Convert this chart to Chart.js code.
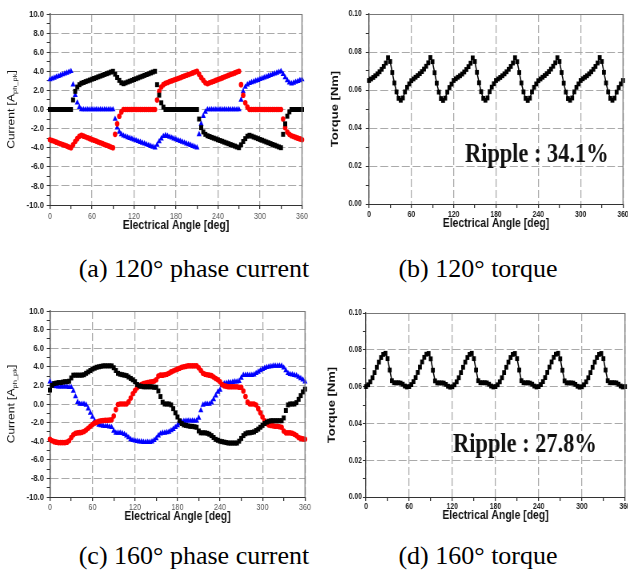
<!DOCTYPE html>
<html>
<head>
<meta charset="utf-8">
<title>Phase current and torque</title>
<script src="https://cdn.jsdelivr.net/npm/chart.js@4.4.1/dist/chart.umd.min.js"></script>
<style>
html, body { margin: 0; padding: 0; background: #fff; }
body { position: relative; width: 628px; height: 574px; overflow: hidden; }
canvas { position: absolute; }
.cap { position: absolute; font-family: 'Liberation Serif', 'Times New Roman', serif; font-size: 26px;
       line-height: 26px; white-space: nowrap; color: #000; transform: translateX(-50%); }
</style>
</head>
<body>
<canvas id="cur120"></canvas>
<canvas id="tq120"></canvas>
<canvas id="cur160"></canvas>
<canvas id="tq160"></canvas>
<div class="cap" style="left:194px; top:256px">(a) 120° phase current</div>
<div class="cap" style="left:478px; top:256px">(b) 120° torque</div>
<div class="cap" style="left:194px; top:543px">(c) 160° phase current</div>
<div class="cap" style="left:478px; top:543px">(d) 160° torque</div>
<script>
// electrical angle [deg]
var angles = [0,3,6,9,12,15,18,21,24,27,30,33,36,39,42,45,48,51,54,57,60,63,66,69,72,75,78,81,84,87,
  90,93,96,99,102,105,108,111,114,117,120,123,126,129,132,135,138,141,144,147,150,153,156,159,162,165,168,171,174,177,
  180,183,186,189,192,195,198,201,204,207,210,213,216,219,222,225,228,231,234,237,240,243,246,249,252,255,258,261,264,267,
  270,273,276,279,282,285,288,291,294,297,300,303,306,309,312,315,318,321,324,327,330,333,336,339,342,345,348,351,354,357,360];

// (a) 120 deg conduction, phase currents [A]
var cur120A = [0,0,0,0,0,0,0,0,0,0, 0,1.0,1.9,2.35,2.6,2.75,2.83,2.92,3.0,3.08,
  3.17,3.25,3.33,3.42,3.5,3.58,3.67,3.75,3.83,3.92, 4.0,3.7,3.35,3.05,2.8,2.7,2.79,2.88,2.96,3.05,
  3.14,3.22,3.31,3.4,3.48,3.57,3.66,3.74,3.83,3.92, 4.0,2.6,1.5,0.7,0.25,0,0,0,0,0,
  0,0,0,0,0,0,0,0,0,0, 0,-1.0,-1.9,-2.35,-2.6,-2.75,-2.83,-2.92,-3.0,-3.08,
  -3.17,-3.25,-3.33,-3.42,-3.5,-3.58,-3.67,-3.75,-3.83,-3.92, -4.0,-3.7,-3.35,-3.05,-2.8,-2.7,-2.79,-2.88,-2.96,-3.05,
  -3.14,-3.22,-3.31,-3.4,-3.48,-3.57,-3.66,-3.74,-3.83,-3.92, -4.0,-2.6,-1.5,-0.7,-0.25,0,0,0,0,0, 0];
var cur120B = [-3.17,-3.25,-3.33,-3.42,-3.5,-3.58,-3.67,-3.75,-3.83,-3.92, -4.0,-3.7,-3.35,-3.05,-2.8,-2.7,-2.79,-2.88,-2.96,-3.05,
  -3.14,-3.22,-3.31,-3.4,-3.48,-3.57,-3.66,-3.74,-3.83,-3.92, -4.0,-2.6,-1.5,-0.7,-0.25,0,0,0,0,0,
  0,0,0,0,0,0,0,0,0,0, 0,1.0,1.9,2.35,2.6,2.75,2.83,2.92,3.0,3.08,
  3.17,3.25,3.33,3.42,3.5,3.58,3.67,3.75,3.83,3.92, 4.0,3.7,3.35,3.05,2.8,2.7,2.79,2.88,2.96,3.05,
  3.14,3.22,3.31,3.4,3.48,3.57,3.66,3.74,3.83,3.92, 4.0,2.6,1.5,0.7,0.25,0,0,0,0,0,
  0,0,0,0,0,0,0,0,0,0, 0,-1.0,-1.9,-2.35,-2.6,-2.75,-2.83,-2.92,-3.0,-3.08, -3.17];
var cur120C = [3.14,3.22,3.31,3.4,3.48,3.57,3.66,3.74,3.83,3.92, 4.0,2.6,1.5,0.7,0.25,0,0,0,0,0,
  0,0,0,0,0,0,0,0,0,0, 0,-1.0,-1.9,-2.35,-2.6,-2.75,-2.83,-2.92,-3.0,-3.08,
  -3.17,-3.25,-3.33,-3.42,-3.5,-3.58,-3.67,-3.75,-3.83,-3.92, -4.0,-3.7,-3.35,-3.05,-2.8,-2.7,-2.79,-2.88,-2.96,-3.05,
  -3.14,-3.22,-3.31,-3.4,-3.48,-3.57,-3.66,-3.74,-3.83,-3.92, -4.0,-2.6,-1.5,-0.7,-0.25,0,0,0,0,0,
  0,0,0,0,0,0,0,0,0,0, 0,1.0,1.9,2.35,2.6,2.75,2.83,2.92,3.0,3.08,
  3.17,3.25,3.33,3.42,3.5,3.58,3.67,3.75,3.83,3.92, 4.0,3.7,3.35,3.05,2.8,2.7,2.79,2.88,2.96,3.05, 3.14];

// (b) 120 deg conduction, torque [Nm]
var tq120 = [0.0650,0.0658,0.0666,0.0675,0.0685,0.0696,0.0709,0.0724,0.0742,0.0770,0.0750,0.0692,0.0637,0.0590,0.0556,0.0546,0.0558,0.0590,0.0614,0.0632,
  0.0649,0.0658,0.0667,0.0676,0.0686,0.0697,0.0710,0.0725,0.0743,0.0771,0.0749,0.0691,0.0636,0.0589,0.0555,0.0545,0.0557,0.0589,0.0613,0.0631,
  0.0650,0.0659,0.0667,0.0675,0.0684,0.0695,0.0708,0.0723,0.0741,0.0769,0.0750,0.0693,0.0638,0.0591,0.0556,0.0546,0.0558,0.0591,0.0615,0.0633,
  0.0650,0.0658,0.0666,0.0675,0.0685,0.0696,0.0709,0.0724,0.0742,0.0770,0.0749,0.0692,0.0637,0.0590,0.0556,0.0545,0.0557,0.0590,0.0614,0.0632,
  0.0649,0.0658,0.0667,0.0676,0.0686,0.0697,0.0710,0.0725,0.0743,0.0770,0.0750,0.0692,0.0636,0.0589,0.0555,0.0546,0.0558,0.0590,0.0614,0.0632,
  0.0650,0.0659,0.0667,0.0675,0.0685,0.0696,0.0709,0.0724,0.0742,0.0771,0.0750,0.0693,0.0637,0.0590,0.0556,0.0546,0.0557,0.0589,0.0613,0.0632,
  0.0650];

// (c) 160 deg conduction, phase currents [A]
var cur160A = [1.5,2.0,2.2,2.25,2.3,2.3,2.35,2.4,2.4,2.45, 2.8,3.1,3.1,3.1,3.1,3.1,3.15,3.3,3.45,3.6,
  3.75,3.85,3.95,4.0,4.05,4.1,4.1,4.1,4.1,4.1, 3.9,3.6,3.3,3.2,3.15,3.1,3.05,2.9,2.75,2.6,
  2.4,2.1,1.95,1.9,1.85,1.85,1.85,1.85,1.85,1.8, 1.8,1.4,0.8,0.2,0,0,0,-0.1,-0.5,-0.95,
  -1.4,-1.8,-2.1,-2.25,-2.3,-2.35,-2.4,-2.4,-2.45,-2.5, -2.9,-3.1,-3.1,-3.1,-3.15,-3.25,-3.4,-3.6,-3.8,-3.9,
  -4.0,-4.05,-4.1,-4.15,-4.2,-4.2,-4.2,-4.2,-4.2,-4.0, -3.7,-3.4,-3.2,-3.1,-3.1,-3.05,-3.0,-2.85,-2.7,-2.5,
  -2.3,-2.1,-1.95,-1.85,-1.8,-1.8,-1.8,-1.8,-1.8,-1.8, -1.5,-0.7,-0.1,0,0,0,0.15,0.5,0.9,1.3, 1.6];
var cur160B = [-3.8,-3.95,-4.05,-4.1,-4.15,-4.15,-4.15,-4.15,-4.1,-3.95, -3.6,-3.3,-3.15,-3.1,-3.08,-3.05,-2.95,-2.8,-2.6,-2.4,
  -2.2,-2.05,-1.95,-1.85,-1.8,-1.78,-1.75,-1.75,-1.72,-1.7, -1.3,-0.6,-0.05,0,0,0,0,0.25,0.65,1.1,
  1.45,1.75,1.95,2.1,2.2,2.25,2.3,2.35,2.4,2.45, 2.6,3.0,3.1,3.1,3.15,3.2,3.3,3.45,3.55,3.65,
  3.75,3.85,3.95,4.0,4.05,4.1,4.1,4.1,4.1,4.1, 3.9,3.6,3.3,3.2,3.15,3.1,3.05,2.9,2.75,2.6,
  2.4,2.1,1.95,1.9,1.85,1.85,1.85,1.85,1.85,1.8, 1.8,1.4,0.8,0.2,0,0,0,-0.1,-0.5,-0.95,
  -1.4,-1.8,-2.1,-2.25,-2.3,-2.35,-2.4,-2.4,-2.45,-2.5, -2.9,-3.1,-3.1,-3.1,-3.15,-3.25,-3.4,-3.6,-3.7,-3.75, -3.8];
var cur160C = [2.4,2.1,1.95,1.9,1.85,1.85,1.85,1.85,1.85,1.8, 1.8,1.4,0.8,0.2,0,0,0,-0.1,-0.5,-0.95,
  -1.4,-1.8,-2.1,-2.25,-2.3,-2.35,-2.4,-2.4,-2.45,-2.5, -2.9,-3.1,-3.1,-3.1,-3.15,-3.25,-3.4,-3.6,-3.8,-3.9,
  -3.95,-4.0,-4.05,-4.05,-4.1,-4.1,-4.1,-4.1,-4.05,-3.9, -3.7,-3.4,-3.2,-3.1,-3.1,-3.05,-3.0,-2.85,-2.7,-2.5,
  -2.3,-2.1,-1.95,-1.85,-1.8,-1.8,-1.8,-1.8,-1.8,-1.8, -1.5,-0.7,-0.1,0,0,0,0.15,0.5,0.9,1.3,
  1.5,2.0,2.2,2.25,2.3,2.3,2.35,2.4,2.4,2.45, 2.8,3.1,3.1,3.1,3.1,3.1,3.15,3.3,3.45,3.6,
  3.75,3.85,3.95,4.0,4.05,4.1,4.1,4.1,4.1,4.1, 3.9,3.6,3.3,3.2,3.15,3.1,3.05,2.9,2.75,2.6, 2.4];

// (d) 160 deg conduction, torque [Nm]
var tq160 = [0.0600,0.0610,0.0626,0.0648,0.0676,0.0705,0.0733,0.0758,0.0775,0.0781,0.0752,0.0690,0.0632,0.0621,0.0620,0.0621,0.0619,0.0613,0.0603,0.0598,
  0.0600,0.0611,0.0627,0.0649,0.0677,0.0706,0.0734,0.0759,0.0776,0.0780,0.0751,0.0689,0.0631,0.0620,0.0620,0.0620,0.0619,0.0612,0.0602,0.0597,
  0.0599,0.0610,0.0626,0.0648,0.0676,0.0705,0.0733,0.0758,0.0775,0.0781,0.0752,0.0690,0.0632,0.0621,0.0621,0.0621,0.0620,0.0613,0.0603,0.0598,
  0.0600,0.0610,0.0626,0.0648,0.0676,0.0705,0.0733,0.0758,0.0775,0.0780,0.0752,0.0690,0.0632,0.0621,0.0620,0.0621,0.0619,0.0613,0.0603,0.0598,
  0.0600,0.0611,0.0627,0.0649,0.0677,0.0706,0.0734,0.0759,0.0776,0.0781,0.0751,0.0689,0.0631,0.0620,0.0620,0.0620,0.0619,0.0612,0.0602,0.0597,
  0.0599,0.0610,0.0626,0.0648,0.0676,0.0705,0.0733,0.0758,0.0775,0.0780,0.0752,0.0690,0.0632,0.0621,0.0621,0.0621,0.0620,0.0613,0.0603,0.0598,
  0.0600];

var SX = 0.8;   // the original figure is squeezed horizontally, charts are drawn wide and shrunk

Chart.defaults.font.family = "'Liberation Sans', Arial, sans-serif";
Chart.defaults.animation = false;

function pts(values) {
  return angles.map(function (a, i) { return { x: a, y: values[i] }; });
}

function majorAngle(v) { return v % 60 === 0; }
function majorAmp(v) { return Math.abs(Math.round(v)) % 2 === 0; }
function majorTq(v) { return Math.round(v * 100) % 2 === 0; }

function grid(isMajor, w) {
  return {
    color: function (c) { return c.tick && isMajor(c.tick.value) ? '#aaaaaa' : 'rgba(0,0,0,0)'; },
    lineWidth: w, tickWidth: w, tickLength: 4, tickColor: '#333'
  };
}

function angleAxis(p) {
  return {
    type: 'linear', min: 0, max: 360,
    afterFit: function (s) { s.height = p.h; },
    ticks: { stepSize: 30, autoSkip: false, maxRotation: 0, padding: p.tickPad, color: p.tickColor, font: p.tickFont,
             callback: function (v) { return majorAngle(v) ? String(v) : ''; } },
    grid: grid(majorAngle, 1.25),
    border: { color: '#333', width: 1, dash: [8, 3] },
    title: { display: true, text: 'Electrical Angle [deg]', color: '#111',
             font: { size: 13, weight: 'bold' }, padding: { top: 0, bottom: p.titlePad } }
  };
}

function ampAxis(p) {
  return {
    type: 'linear', min: -10, max: 10,
    afterFit: function (s) { s.width = p.w; },
    ticks: { stepSize: 1, autoSkip: false, padding: 3.5, color: '#222', font: { size: 9.5, weight: 'bold' },
             callback: function (v) { return majorAmp(v) ? v.toFixed(1) : ''; } },
    grid: grid(majorAmp, 1),
    border: { color: '#333', width: 1.25, dash: [10, 3.5] }
  };
}

function tqAxis(p) {
  return {
    type: 'linear', min: 0, max: 0.1,
    afterFit: function (s) { s.width = p.w; },
    ticks: { stepSize: 0.01, autoSkip: false, padding: p.tickPad, color: '#222', font: { size: 8.5, weight: 'bold' },
             callback: function (v) { return majorTq(v) ? v.toFixed(2) : ''; } },
    grid: grid(majorTq, 1),
    border: { color: '#333', width: 1.25, dash: [10, 3.5] },
    title: { display: true, text: 'Torque [Nm]', color: '#111', font: { size: 13, weight: 'bold' },
             padding: { top: p.titlePad, bottom: 0 } }
  };
}

// y title with subscript for the current plots
var ampTitle = {
  id: 'ampTitle',
  afterDraw: function (chart, args, o) {
    var ctx = chart.ctx, a = chart.chartArea;
    var big = "12px 'Liberation Sans', Arial, sans-serif", small = "7.5px 'Liberation Sans', Arial, sans-serif";
    ctx.save();
    ctx.translate(o.x, (a.top + a.bottom) / 2);
    ctx.rotate(-Math.PI / 2);
    ctx.fillStyle = '#111';
    ctx.textBaseline = 'middle';
    ctx.font = big;
    var w1 = ctx.measureText('Current [A').width, w3 = ctx.measureText(']').width;
    ctx.font = small;
    var w2 = ctx.measureText('ph_pk').width;
    var x = -(w1 + w2 + w3) / 2;
    ctx.font = big; ctx.fillText('Current [A', x, 0); x += w1;
    ctx.font = small; ctx.fillText('ph_pk', x, 4); x += w2;
    ctx.font = big; ctx.fillText(']', x, 0);
    ctx.restore();
  }
};

var ripple = {
  id: 'ripple',
  afterDraw: function (chart, args, o) {
    var ctx = chart.ctx;
    ctx.save();
    ctx.font = "bold 28px 'Liberation Serif', 'Times New Roman', serif";
    ctx.fillStyle = '#111';
    ctx.textBaseline = 'alphabetic';
    ctx.fillText(o.text, chart.scales.x.getPixelForValue(o.ax), chart.scales.y.getPixelForValue(o.ay));
    ctx.restore();
  }
};

var frame = {
  id: 'frame',
  afterDraw: function (chart) {
    var a = chart.chartArea, ctx = chart.ctx;
    ctx.save();
    ctx.strokeStyle = '#777';
    ctx.lineWidth = 1;
    ctx.beginPath(); ctx.moveTo(a.left, a.top + 0.5); ctx.lineTo(a.right, a.top + 0.5); ctx.stroke();
    ctx.lineWidth = 1.25;
    ctx.beginPath(); ctx.moveTo(a.right, a.top); ctx.lineTo(a.right, a.bottom); ctx.stroke();
    ctx.restore();
  }
};

function curSets(k, r, b) {
  var common = { pointBorderWidth: 0, clip: false, showLine: false };
  return [
    Object.assign({ data: pts(k), pointStyle: 'rect', pointRadius: 3.5, pointBackgroundColor: '#000' }, common),
    Object.assign({ data: pts(r), pointStyle: 'circle', pointRadius: 2.8, pointBackgroundColor: '#f00' }, common),
    Object.assign({ data: pts(b), pointStyle: 'triangle', pointRadius: 3.6, pointBackgroundColor: '#00f' }, common)
  ];
}

function tqSet(v) {
  return [{ data: pts(v), showLine: true, borderColor: '#000', borderWidth: 1.5, pointStyle: 'rect', pointRadius: 3.4,
            pointBackgroundColor: '#000', pointBorderWidth: 0, clip: false }];
}

function makeChart(id, box, cfg) {
  var cv = document.getElementById(id);
  cv.width = Math.round(box.w / SX);
  cv.height = box.h;
  cv.style.left = box.x + 'px';
  cv.style.top = box.y + 'px';
  cv.style.width = box.w + 'px';
  cv.style.height = box.h + 'px';
  cfg.options.responsive = false;
  return new Chart(cv, cfg);
}

makeChart('cur120', { x: 0, y: 0, w: 316, h: 234 }, {
  type: 'scatter',
  data: { datasets: curSets(cur120A, cur120B, cur120C) },
  plugins: [ampTitle, frame],
  options: {
    layout: { padding: { left: 0, top: 14, right: 17.5, bottom: 0 } },
    plugins: { legend: { display: false }, tooltip: { enabled: false }, ampTitle: { x: 15 } },
    scales: {
      x: angleAxis({ h: 29, tickPad: 2, tickColor: '#555', tickFont: { size: 9 }, titlePad: 1 }),
      y: ampAxis({ w: 62.5 })
    }
  }
});

makeChart('tq120', { x: 318, y: 0, w: 324, h: 234 }, {
  type: 'scatter',
  data: { datasets: tqSet(tq120) },
  plugins: [ripple, frame],
  options: {
    layout: { padding: { left: 0, top: 14, right: 23.75, bottom: 0 } },
    plugins: { legend: { display: false }, tooltip: { enabled: false }, ripple: { text: 'Ripple : 34.1%', ax: 136, ay: 0.0221 } },
    scales: {
      x: angleAxis({ h: 30, tickPad: 2, tickColor: '#222', tickFont: { size: 8.5, weight: 'bold' }, titlePad: 3 }),
      y: tqAxis({ w: 63.75, tickPad: 5, titlePad: 14 })
    }
  }
});

makeChart('cur160', { x: 0, y: 292, w: 316, h: 236 }, {
  type: 'scatter',
  data: { datasets: curSets(cur160A, cur160B, cur160C) },
  plugins: [ampTitle, frame],
  options: {
    layout: { padding: { left: 0, top: 19, right: 13.75, bottom: 0 } },
    plugins: { legend: { display: false }, tooltip: { enabled: false }, ampTitle: { x: 15 } },
    scales: {
      x: angleAxis({ h: 31, tickPad: 1, tickColor: '#555', tickFont: { size: 9 }, titlePad: 4 }),
      y: ampAxis({ w: 62.5 })
    }
  }
});

makeChart('tq160', { x: 318, y: 292, w: 324, h: 236 }, {
  type: 'scatter',
  data: { datasets: tqSet(tq160) },
  plugins: [ripple, frame],
  options: {
    layout: { padding: { left: 0, top: 21, right: 21.25, bottom: 0 } },
    plugins: { legend: { display: false }, tooltip: { enabled: false }, ripple: { text: 'Ripple : 27.8%', ax: 121, ay: 0.0245 } },
    scales: {
      x: angleAxis({ h: 31, tickPad: 1, tickColor: '#222', tickFont: { size: 8.5, weight: 'bold' }, titlePad: 5 }),
      y: tqAxis({ w: 60, tickPad: 1, titlePad: 9.7 })
    }
  }
});
</script>
</body>
</html>
